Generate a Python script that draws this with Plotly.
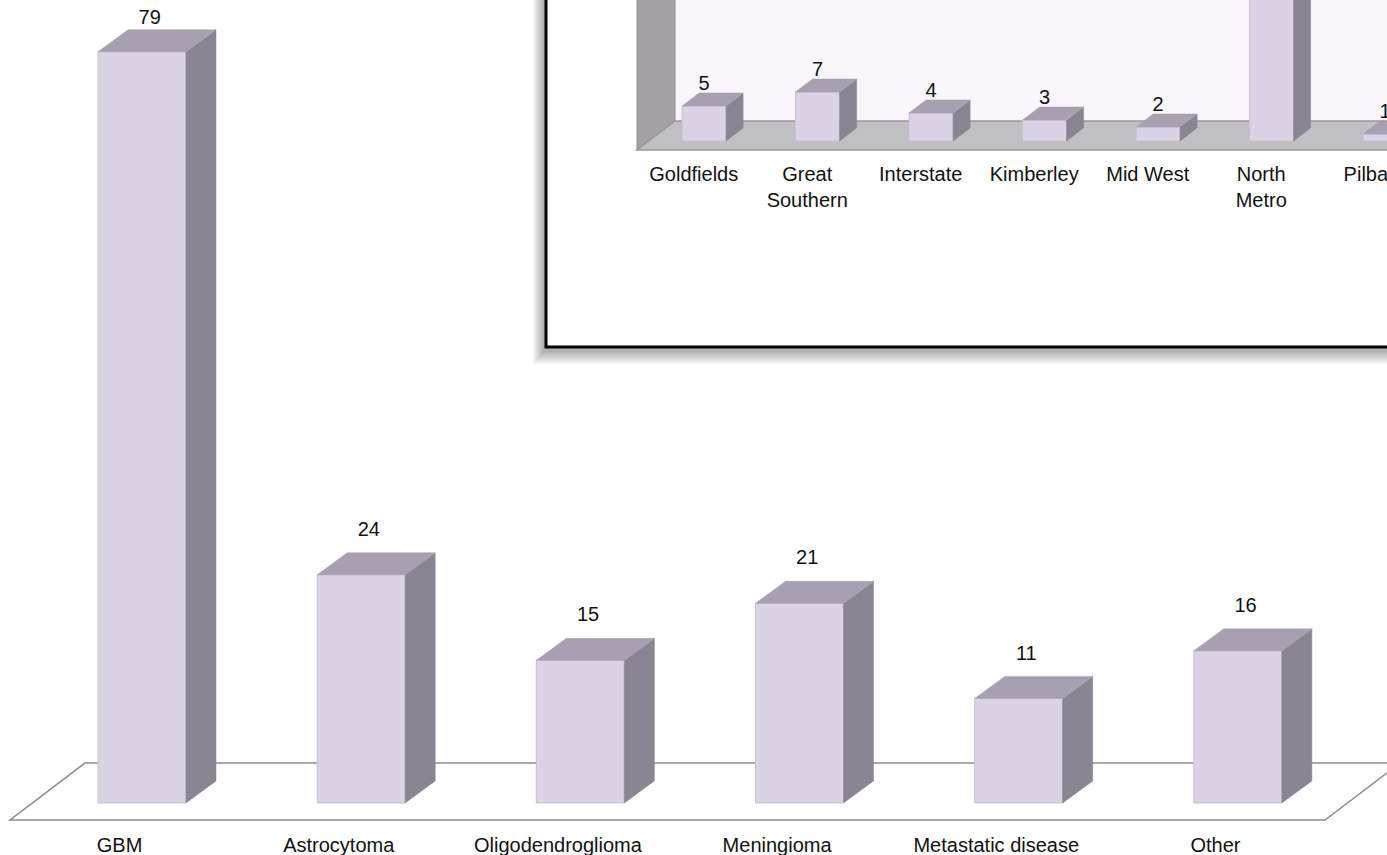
import plotly.graph_objects as go

# Main chart: tumour type counts
tumour_types = ["GBM", "Astrocytoma", "Oligodendroglioma", "Meningioma",
                "Metastatic disease", "Other"]
tumour_counts = [79, 24, 15, 21, 11, 16]

# Inset chart: patients by region
regions = ["Goldfields", "Great Southern", "Interstate", "Kimberley",
           "Mid West", "North Metro", "Pilbara"]
region_labels = ["Goldfields", "Great<br>Southern", "Interstate", "Kimberley",
                 "Mid West", "North<br>Metro", "Pilbara"]
region_counts = [5, 7, 4, 3, 2, 38, 1]

W, H = 1387, 855
FONT = "Liberation Sans, Arial, sans-serif"
FRONT = "#DCD2E6"
FRONT_EDGE = "#C9BFD4"
TOP = "#A8A0B0"
SIDE = "#8B8492"

M_YRANGE = [-5.468, 84.44]
I_YRANGE = [-102, 20.14]


def box_faces(xs, vals, off, width, dx, dy):
    """Polygons for the top and right faces of pseudo-3D bars."""
    tx, ty, sx, sy = [], [], [], []
    for x, v in zip(xs, vals):
        l = x + off
        r = l + width
        tx += [l, l + dx, r + dx, r, l, None]
        ty += [v, v + dy, v + dy, v, v, None]
        sx += [r, r + dx, r + dx, r, r, None]
        sy += [0, dy, v + dy, v, 0, None]
    return tx, ty, sx, sy


fig = go.Figure()

# ---------- main chart (axes x / y) ----------
m_idx = list(range(len(tumour_types)))
M_OFF, M_W, M_DX, M_DY = -0.0985, 0.4015, 0.137, 2.313

fig.add_trace(go.Bar(
    x=m_idx, y=tumour_counts, base=0, width=M_W, offset=M_OFF,
    marker=dict(color=FRONT, line=dict(color=FRONT_EDGE, width=1)),
    xaxis="x", yaxis="y", hoverinfo="skip", showlegend=False))

tx, ty, sx, sy = box_faces(m_idx, tumour_counts, M_OFF, M_W, M_DX, M_DY)
fig.add_trace(go.Scatter(x=sx, y=sy, fill="toself", fillcolor=SIDE, mode="lines",
                         line=dict(color=SIDE, width=0.5), xaxis="x", yaxis="y",
                         hoverinfo="skip", showlegend=False))
fig.add_trace(go.Scatter(x=tx, y=ty, fill="toself", fillcolor=TOP, mode="lines",
                         line=dict(color=TOP, width=0.5), xaxis="x", yaxis="y",
                         hoverinfo="skip", showlegend=False))

# value labels sit above each box, kept inside the top edge of the chart
fig.add_trace(go.Scatter(
    x=[i + M_OFF + M_W / 2 + 0.035 for i in m_idx],
    y=[min(v + M_DY + 2.3, M_YRANGE[1] - 2.0) for v in tumour_counts],
    text=[str(v) for v in tumour_counts], mode="text",
    textposition="middle center",
    textfont=dict(family=FONT, size=20, color="#111111"),
    xaxis="x", yaxis="y", hoverinfo="skip", showlegend=False))

fig.add_trace(go.Scatter(
    x=m_idx, y=[-4.6] * len(m_idx), text=tumour_types, mode="text",
    textposition="middle center",
    textfont=dict(family=FONT, size=20, color="#111111"),
    xaxis="x", yaxis="y", hoverinfo="skip", showlegend=False))

# ---------- inset chart (axes x2 / y2) ----------
r_idx = list(range(len(regions)))
I_OFF, I_W, I_DX, I_DY = -0.103, 0.388, 0.15, 1.857

fig.add_trace(go.Bar(
    x=r_idx, y=region_counts, base=0, width=I_W, offset=I_OFF,
    marker=dict(color=FRONT, line=dict(color=FRONT_EDGE, width=1)),
    xaxis="x2", yaxis="y2", hoverinfo="skip", showlegend=False))

tx2, ty2, sx2, sy2 = box_faces(r_idx, region_counts, I_OFF, I_W, I_DX, I_DY)
fig.add_trace(go.Scatter(x=sx2, y=sy2, fill="toself", fillcolor=SIDE, mode="lines",
                         line=dict(color=SIDE, width=0.5), xaxis="x2", yaxis="y2",
                         hoverinfo="skip", showlegend=False))
fig.add_trace(go.Scatter(x=tx2, y=ty2, fill="toself", fillcolor=TOP, mode="lines",
                         line=dict(color=TOP, width=0.5), xaxis="x2", yaxis="y2",
                         hoverinfo="skip", showlegend=False))

# only labels that fall inside the visible part of the inset are drawn
lab_x, lab_y, lab_t = [], [], []
for j, v in zip(r_idx, region_counts):
    y = v + I_DY + 1.15
    if y < I_YRANGE[1] - 1.5:
        lab_x.append(j + I_OFF + I_W / 2)
        lab_y.append(y)
        lab_t.append(str(v))
fig.add_trace(go.Scatter(
    x=lab_x, y=lab_y, text=lab_t, mode="text",
    textposition="middle center",
    textfont=dict(family=FONT, size=20, color="#111111"),
    xaxis="x2", yaxis="y2", hoverinfo="skip", showlegend=False))

fig.add_trace(go.Scatter(
    x=r_idx, y=[-3.55] * len(r_idx), text=region_labels, mode="text",
    textposition="bottom center",
    textfont=dict(family=FONT, size=20, color="#111111"),
    xaxis="x2", yaxis="y2", hoverinfo="skip", showlegend=False))

# ---------- decorations: floors, walls, inset frame ----------
shapes = []

# soft drop shadow of the inset frame
bx0, by0 = 546 / W, 1 - 347 / H
for k in range(8):
    shapes.append(dict(type="rect", xref="paper", yref="paper", layer="below",
                       x0=bx0 - (3 + k * 1.4) / W, y0=by0 - (5 + k * 1.7) / H,
                       x1=1.2, y1=1.2, line=dict(width=0),
                       fillcolor="rgba(0,0,0,0.045)"))
shapes.append(dict(type="rect", xref="paper", yref="paper", layer="below",
                   x0=bx0, y0=by0, x1=1.2, y1=1.2,
                   line=dict(color="#000000", width=3), fillcolor="#FFFFFF"))

# inset back wall, side wall and floor
shapes.append(dict(type="rect", xref="x2", yref="y2", layer="below",
                   x0=-0.165, y0=2.857, x1=8, y1=40,
                   line=dict(width=0), fillcolor="#F9F7FB"))
shapes.append(dict(type="path", xref="x2", yref="y2", layer="below",
                   path="M -0.5,-1.286 L -0.165,2.857 L -0.165,40 L -0.5,40 Z",
                   fillcolor="#A4A2A5", line=dict(color="#929093", width=1)))
shapes.append(dict(type="path", xref="x2", yref="y2", layer="below",
                   path="M -0.5,-1.286 L 8,-1.286 L 8,2.857 L -0.165,2.857 Z",
                   fillcolor="#C0BFC1", line=dict(color="#9A999B", width=1.5)))

# main chart floor outline
shapes.append(dict(type="path", xref="x", yref="y", layer="below",
                   path="M -0.5,-1.79 L 5.5,-1.79 L 5.842,4.2 L -0.158,4.2 Z",
                   line=dict(color="#8C8C8C", width=1.5)))

axis_off = dict(visible=False, showgrid=False, zeroline=False, fixedrange=True)

fig.update_layout(
    width=W, height=H,
    margin=dict(l=0, r=0, t=0, b=0),
    paper_bgcolor="#FFFFFF", plot_bgcolor="rgba(0,0,0,0)",
    showlegend=False, barmode="overlay",
    xaxis=dict(domain=[0, 1], range=[-0.5456, 5.7828], **axis_off),
    yaxis=dict(domain=[0, 1], range=M_YRANGE, **axis_off),
    xaxis2=dict(domain=[0, 1], range=[-6.1123, 6.108], anchor="y2", **axis_off),
    yaxis2=dict(domain=[0, 1], range=I_YRANGE, anchor="x2", **axis_off),
    shapes=shapes,
)

fig.write_html("out.html")
